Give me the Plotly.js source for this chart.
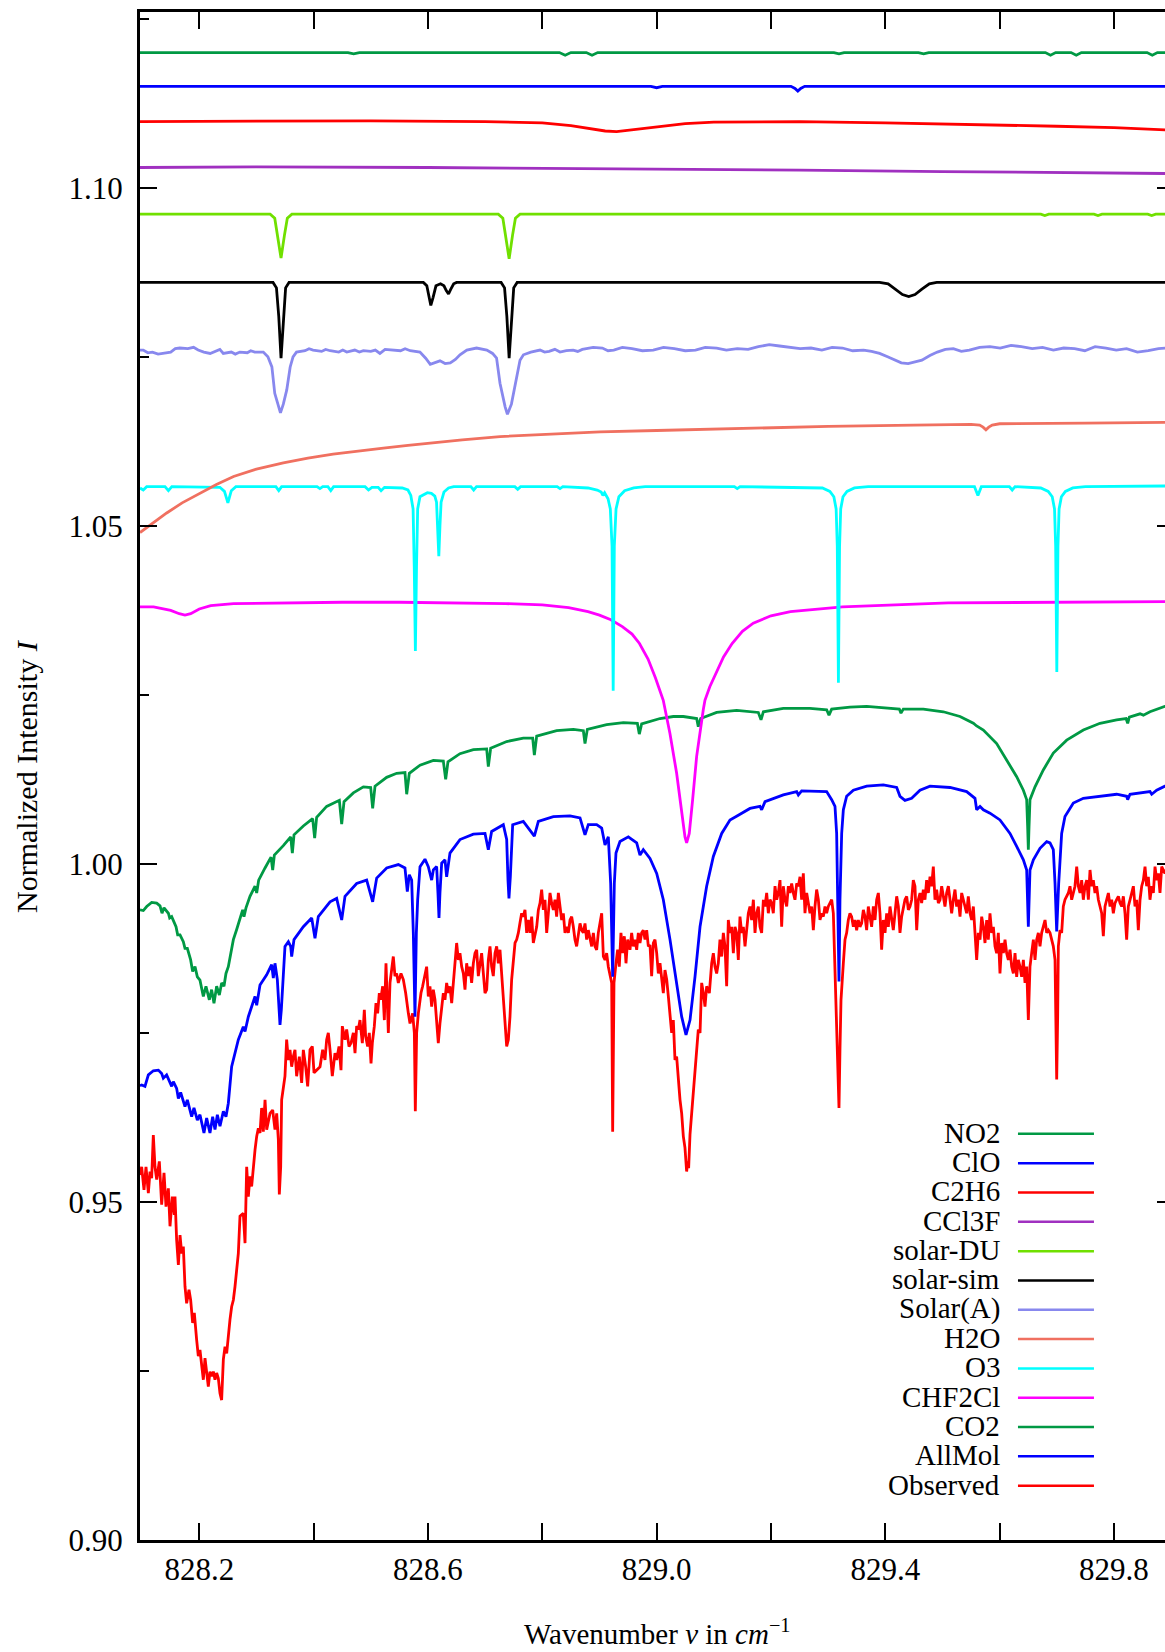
<!DOCTYPE html>
<html><head><meta charset="utf-8">
<script src="https://cdn.plot.ly/plotly-3.0.1.min.js"></script>
<style>html,body{margin:0;padding:0;overflow:hidden;background:#fff}#chart{width:1180px;height:1652px}</style>
</head><body><div id="chart"></div>
<script>
// ---------- legend / series meta ----------
const seriesNames  = ["NO2","ClO","C2H6","CCl3F","solar-DU","solar-sim","Solar(A)","H2O","O3","CHF2Cl","CO2","AllMol","Observed"];
const seriesColors = ["#009944","#0000ff","#ff0000","#a030c0","#70e000","#000000","#8888ee","#f07060","#00ffff","#ff00ff","#009944","#0000ff","#ff0000"];

// ---------- axis ticks ----------
const xTickVals = [828.2,828.6,829.0,829.4,829.8];
const xTickText = ["828.2","828.6","829.0","829.4","829.8"];
const xMinorTickVals = [828.4,828.8,829.2,829.6];
const yTickVals = [0.90,0.95,1.00,1.05,1.10];
const yTickText = ["0.90","0.95","1.00","1.05","1.10"];
const yMinorTickVals = [0.925,0.975,1.025,1.075,1.125];

// ---------- data: [wavenumber, normalized intensity] ----------
const no2 = [[828.0963,1.1200],[828.46,1.1200],[828.47,1.1198],[828.48,1.1200],[828.83,1.1200],[828.84,1.1196],[828.85,1.1200],[828.877,1.1200],[828.887,1.1196],[828.897,1.1200],[829.31,1.1200],[829.319,1.1198],[829.328,1.1200],[829.458,1.1200],[829.467,1.1198],[829.476,1.1200],[829.68,1.1200],[829.689,1.1196],[829.698,1.1200],[829.725,1.1200],[829.734,1.1196],[829.743,1.1200],[829.858,1.1200],[829.867,1.1196],[829.876,1.1200],[829.905,1.1200]];

const clo = [[828.0963,1.1150],[828.99,1.1150],[829.0,1.1148],[829.01,1.1150],[829.235,1.1150],[829.242,1.1147],[829.247,1.1143],[829.252,1.1147],[829.259,1.1150],[829.905,1.1150]];

const c2h6 = [[828.0963,1.1098],[828.3,1.1099],[828.5,1.1099],[828.7,1.1098],[828.8,1.1096],[828.85,1.1092],[828.88,1.1088],[828.91,1.1084],[828.93,1.1083],[828.96,1.1086],[829.0,1.1091],[829.05,1.1095],[829.1,1.1097],[829.25,1.1098],[829.4,1.1096],[829.55,1.1094],[829.7,1.1091],[829.8,1.1089],[829.905,1.1085]];

const ccl3f = [[828.0963,1.1030],[828.3,1.1031],[828.6,1.1030],[829.0,1.1028],[829.25,1.1026],[829.5,1.1024],[829.7,1.1022],[829.905,1.1021]];

const solarDU = [[828.0963,1.0961],[828.324,1.0961],[828.332,1.0955],[828.337,1.0930],[828.343,1.0896],[828.349,1.0930],[828.354,1.0955],[828.362,1.0961],[828.723,1.0961],[828.731,1.0955],[828.736,1.0930],[828.742,1.0895],[828.748,1.0930],[828.753,1.0955],[828.761,1.0961],[829.672,1.0961],[829.679,1.0959],[829.686,1.0961],[829.765,1.0961],[829.772,1.0959],[829.779,1.0961],[829.859,1.0961],[829.866,1.0959],[829.873,1.0961],[829.905,1.0961]];

const solarSim = [[828.0963,1.0860],[828.329,1.0860],[828.335,1.0852],[828.339,1.0810],[828.343,1.0748],[828.347,1.0810],[828.351,1.0852],[828.357,1.0860],[828.592,1.0860],[828.598,1.0855],[828.602,1.0838],[828.605,1.0826],[828.609,1.0838],[828.614,1.0855],[828.622,1.0858],[828.628,1.0855],[828.632,1.0848],[828.636,1.0843],[828.640,1.0850],[828.645,1.0858],[828.650,1.0860],[828.728,1.0860],[828.734,1.0852],[828.738,1.0810],[828.742,1.0748],[828.746,1.0810],[828.750,1.0852],[828.756,1.0860],[829.39,1.0860],[829.405,1.0858],[829.418,1.0850],[829.43,1.0842],[829.441,1.0839],[829.452,1.0842],[829.464,1.0850],[829.477,1.0858],[829.49,1.0860],[829.905,1.0860]];

const solarA = [[828.0963,1.0760],[828.102,1.0760],[828.110,1.0756],[828.118,1.0757],[828.128,1.0754],[828.137,1.0755],[828.150,1.0757],[828.158,1.0762],[828.166,1.0763],[828.180,1.0762],[828.190,1.0764],[828.198,1.0760],[828.208,1.0757],[828.219,1.0755],[828.230,1.0759],[828.236,1.0761],[828.242,1.0755],[828.256,1.0757],[828.263,1.0754],[828.271,1.0757],[828.284,1.0756],[828.290,1.0759],[828.297,1.0757],[828.312,1.0757],[828.320,1.0750],[828.327,1.0735],[828.332,1.0696],[828.338,1.0680],[828.342,1.0667],[828.347,1.0680],[828.353,1.0701],[828.359,1.0735],[828.364,1.0750],[828.370,1.0757],[828.385,1.0759],[828.392,1.0762],[828.399,1.0760],[828.414,1.0758],[828.421,1.0761],[828.429,1.0759],[828.444,1.0757],[828.451,1.0760],[828.458,1.0757],[828.472,1.0760],[828.480,1.0757],[828.487,1.0759],[828.500,1.0758],[828.508,1.0760],[828.516,1.0755],[828.525,1.0761],[828.534,1.0760],[828.552,1.0759],[828.560,1.0762],[828.569,1.0759],[828.586,1.0757],[828.596,1.0748],[828.604,1.0739],[828.612,1.0741],[828.621,1.0744],[828.630,1.0740],[828.639,1.0741],[828.648,1.0746],[828.656,1.0753],[828.668,1.0760],[828.685,1.0763],[828.703,1.0760],[828.713,1.0755],[828.720,1.0748],[828.726,1.0711],[828.735,1.0676],[828.739,1.0665],[828.746,1.0680],[828.755,1.0721],[828.761,1.0745],[828.767,1.0753],[828.780,1.0757],[828.796,1.0760],[828.804,1.0757],[828.812,1.0758],[828.822,1.0761],[828.831,1.0757],[828.842,1.0759],[828.854,1.0760],[828.862,1.0758],[828.870,1.0761],[828.889,1.0764],[828.905,1.0763],[828.915,1.0759],[828.925,1.0760],[828.940,1.0764],[828.957,1.0762],[828.975,1.0759],[828.994,1.0760],[829.012,1.0764],[829.031,1.0762],[829.050,1.0759],[829.068,1.0760],[829.085,1.0764],[829.105,1.0763],[829.122,1.0760],[829.141,1.0762],[829.160,1.0761],[829.178,1.0765],[829.197,1.0768],[829.215,1.0766],[829.233,1.0764],[829.251,1.0762],[829.270,1.0763],[829.289,1.0760],[829.307,1.0764],[829.325,1.0763],[829.343,1.0759],[829.362,1.0760],[829.376,1.0758],[829.390,1.0755],[829.404,1.0750],[829.417,1.0745],[829.428,1.0741],[829.440,1.0740],[829.452,1.0742],[829.464,1.0745],[829.478,1.0752],[829.491,1.0757],[829.505,1.0761],[829.519,1.0762],[829.533,1.0758],[829.547,1.0760],[829.565,1.0764],[829.583,1.0765],[829.601,1.0763],[829.620,1.0767],[829.638,1.0765],[829.657,1.0762],[829.675,1.0764],[829.694,1.0760],[829.712,1.0763],[829.731,1.0762],[829.749,1.0759],[829.767,1.0765],[829.786,1.0763],[829.804,1.0760],[829.822,1.0762],[829.841,1.0757],[829.860,1.0759],[829.878,1.0762],[829.905,1.0764]];

const h2o = [[828.0963,1.0490],[828.12,1.0505],[828.143,1.0519],[828.17,1.0534],[828.201,1.0548],[828.23,1.0561],[828.26,1.0573],[828.30,1.0584],[828.347,1.0593],[828.39,1.0600],[828.434,1.0606],[828.48,1.0611],[828.522,1.0615],[828.565,1.0619],[828.609,1.0623],[828.66,1.0627],[828.726,1.0632],[828.80,1.0635],[828.901,1.0639],[829.0,1.0641],[829.141,1.0644],[829.3,1.0647],[829.45,1.0649],[829.55,1.0650],[829.565,1.0649],[829.571,1.0646],[829.576,1.0642],[829.581,1.0646],[829.587,1.0649],[829.60,1.0651],[829.75,1.0652],[829.905,1.0653]];

const o3 = [[828.0963,1.0556],[828.102,1.0553],[828.108,1.0558],[828.140,1.0558],[828.146,1.0552],[828.152,1.0558],[828.236,1.0557],[828.244,1.0551],[828.248,1.0540],[828.250,1.0534],[828.252,1.0540],[828.256,1.0552],[828.264,1.0558],[828.334,1.0558],[828.339,1.0552],[828.344,1.0558],[828.406,1.0558],[828.411,1.0555],[828.416,1.0558],[828.425,1.0558],[828.430,1.0552],[828.435,1.0558],[828.490,1.0558],[828.496,1.0553],[828.502,1.0557],[828.513,1.0557],[828.518,1.0552],[828.524,1.0557],[828.555,1.0556],[828.565,1.0553],[828.570,1.0545],[828.574,1.0525],[828.576,1.0440],[828.578,1.0315],[828.580,1.0440],[828.582,1.0525],[828.586,1.0543],[828.592,1.0546],[828.599,1.0549],[828.606,1.0548],[828.612,1.0544],[828.615,1.0535],[828.617,1.0500],[828.619,1.0455],[828.621,1.0500],[828.623,1.0535],[828.628,1.0550],[828.636,1.0556],[828.645,1.0558],[828.675,1.0558],[828.680,1.0553],[828.685,1.0558],[828.752,1.0558],[828.757,1.0554],[828.762,1.0558],[828.826,1.0558],[828.831,1.0555],[828.836,1.0558],[828.880,1.0556],[828.896,1.0553],[828.903,1.0550],[828.906,1.0545],[828.909,1.0549],[828.915,1.0540],[828.919,1.0525],[828.922,1.0470],[828.924,1.0256],[828.926,1.0470],[828.929,1.0525],[828.934,1.0543],[828.944,1.0552],[828.960,1.0556],[828.980,1.0558],[829.136,1.0558],[829.141,1.0555],[829.146,1.0558],[829.290,1.0556],[829.303,1.0551],[829.310,1.0543],[829.314,1.0525],[829.316,1.0470],[829.318,1.0268],[829.320,1.0470],[829.322,1.0525],[829.326,1.0543],[829.333,1.0551],[829.346,1.0556],[829.370,1.0558],[829.556,1.0558],[829.562,1.0545],[829.568,1.0558],[829.617,1.0558],[829.622,1.0553],[829.627,1.0558],[829.672,1.0556],[829.685,1.0551],[829.692,1.0543],[829.696,1.0525],[829.698,1.0470],[829.700,1.0284],[829.702,1.0470],[829.704,1.0525],[829.708,1.0543],[829.715,1.0551],[829.728,1.0556],[829.750,1.0558],[829.905,1.0559]];

const chf2cl = [[828.0963,1.0380],[828.12,1.0380],[828.15,1.0375],[828.165,1.0370],[828.175,1.0368],[828.185,1.0370],[828.20,1.0377],[828.22,1.0382],[828.26,1.0385],[828.35,1.0386],[828.45,1.0387],[828.55,1.0387],[828.65,1.0386],[828.736,1.0385],[828.80,1.0383],[828.846,1.0379],[828.88,1.0373],[828.90,1.0368],[828.92,1.0361],[828.94,1.0351],[828.957,1.0340],[828.970,1.0326],[828.985,1.0303],[828.998,1.0275],[829.0116,1.0242],[829.0233,1.0193],[829.0350,1.0134],[829.0438,1.0080],[829.0496,1.0040],[829.0525,1.0031],[829.0571,1.0045],[829.0630,1.0095],[829.0700,1.0159],[829.0816,1.0228],[829.0845,1.0242],[829.093,1.0262],[829.104,1.0283],[829.117,1.0306],[829.132,1.0326],[829.150,1.0344],[829.169,1.0356],[829.20,1.0367],[829.234,1.0373],[829.28,1.0377],[829.325,1.0380],[829.51,1.0386],[829.694,1.0387],[829.905,1.0388]];

const co2 = [[828.0963,0.9932],[828.1021,0.9931],[828.1080,0.9937],[828.1167,0.9943],[828.1255,0.9942],[828.1313,0.9938],[828.1348,0.9927],[828.1383,0.9935],[828.1459,0.9927],[828.1482,0.9920],[828.1517,0.9922],[828.1593,0.9907],[828.1622,0.9895],[828.1663,0.9895],[828.1721,0.9885],[828.1750,0.9875],[828.1791,0.9875],[828.1849,0.9858],[828.1884,0.9841],[828.1925,0.9848],[828.1966,0.9833],[828.2012,0.9828],[828.2071,0.9804],[828.2117,0.9819],[828.2176,0.9799],[828.2216,0.9814],[828.2257,0.9794],[828.2304,0.9819],[828.2351,0.9806],[828.2391,0.9824],[828.2432,0.9819],[828.2467,0.9838],[828.2508,0.9848],[828.2549,0.9868],[828.2596,0.9888],[828.2654,0.9903],[828.2712,0.9920],[828.2759,0.9932],[828.2782,0.9922],[828.2817,0.9935],[828.2887,0.9952],[828.2975,0.9967],[828.3004,0.9957],[828.3039,0.9976],[828.3150,0.9994],[828.3255,1.0010],[828.3284,0.9991],[828.3313,1.0013],[828.3470,1.0027],[828.3599,1.0040],[828.3628,1.0016],[828.3657,1.0043],[828.3820,1.0056],[828.3983,1.0067],[828.4018,1.0038],[828.4053,1.0069],[828.4228,1.0085],[828.4450,1.0094],[828.4491,1.0059],[828.4532,1.0092],[828.4695,1.0105],[828.4870,1.0114],[828.4998,1.0113],[828.5033,1.0082],[828.5074,1.0115],[828.5278,1.0128],[828.5453,1.0134],[828.5598,1.0135],[828.5628,1.0103],[828.5674,1.0134],[828.5861,1.0146],[828.6094,1.0153],[828.6269,1.0152],[828.6310,1.0125],[828.6350,1.0151],[828.6560,1.0163],[828.6794,1.0169],[828.7027,1.0170],[828.7056,1.0144],[828.7097,1.0171],[828.7377,1.0181],[828.7668,1.0186],[828.7832,1.0186],[828.7861,1.0161],[828.7902,1.0189],[828.8251,1.0197],[828.8543,1.0199],[828.8718,1.0197],[828.8747,1.0178],[828.8788,1.0199],[828.9126,1.0206],[828.9418,1.0209],[828.9663,1.0208],[828.9697,1.0192],[828.9738,1.0207],[828.9919,1.0212],[829.0059,1.0215],[829.0292,1.0218],[829.0467,1.0218],[829.0700,1.0215],[829.0729,1.0203],[829.0770,1.0215],[829.1050,1.0224],[829.1400,1.0227],[829.1779,1.0224],[829.1826,1.0213],[829.1867,1.0225],[829.2216,1.0230],[829.2683,1.0230],[829.2974,1.0228],[829.3015,1.0220],[829.3062,1.0229],[829.3382,1.0232],[829.3674,1.0233],[829.3965,1.0231],[829.4245,1.0229],[829.4274,1.0223],[829.4315,1.0229],[829.4665,1.0229],[829.5015,1.0225],[829.5307,1.0218],[829.5540,1.0208],[829.5598,1.0204],[829.5715,1.0198],[829.5948,1.0178],[829.6123,1.0154],[829.6298,1.0129],[829.6415,1.0109],[829.6473,1.0095],[829.6490,1.0055],[829.6502,1.0021],[829.6514,1.0055],[829.6531,1.0095],[829.6619,1.0114],[829.6764,1.0139],[829.6939,1.0164],[829.7173,1.0183],[829.7464,1.0198],[829.7756,1.0208],[829.8047,1.0213],[829.8211,1.0215],[829.8240,1.0208],[829.8269,1.0217],[829.8456,1.0222],[829.8514,1.0220],[829.8630,1.0225],[829.8892,1.0233],[829.905,1.0236]];

const allMol = [[828.0963,0.9672],[828.0992,0.9673],[828.1050,0.9671],[828.1109,0.9688],[828.1196,0.9694],[828.1284,0.9695],[828.1342,0.9690],[828.1371,0.9683],[828.1429,0.9688],[828.1488,0.9678],[828.1517,0.9671],[828.1546,0.9678],[828.1604,0.9668],[828.1634,0.9653],[828.1674,0.9662],[828.1750,0.9641],[828.1791,0.9651],[828.1867,0.9626],[828.1907,0.9639],[828.1966,0.9621],[828.2012,0.9629],[828.2082,0.9602],[828.2129,0.9624],[828.2187,0.9602],[828.2234,0.9626],[828.2275,0.9607],[828.2316,0.9629],[828.2362,0.9612],[828.2421,0.9634],[828.2467,0.9626],[828.2508,0.9646],[828.2566,0.9700],[828.2625,0.9720],[828.2683,0.9740],[828.2770,0.9759],[828.2800,0.9752],[828.2858,0.9774],[828.2975,0.9804],[828.3004,0.9791],[828.3062,0.9821],[828.3179,0.9836],[828.3266,0.9851],[828.3295,0.9831],[828.3324,0.9853],[828.3365,0.9829],[828.3389,0.9784],[828.3412,0.9762],[828.3435,0.9784],[828.3458,0.9824],[828.3499,0.9878],[828.3558,0.9885],[828.3599,0.9878],[828.3616,0.9863],[828.3657,0.9888],[828.3820,0.9907],[828.3966,0.9920],[828.4024,0.9890],[828.4082,0.9922],[828.4287,0.9944],[828.4403,0.9949],[828.4491,0.9917],[828.4549,0.9952],[828.4753,0.9971],[828.4928,0.9976],[828.5033,0.9944],[828.5103,0.9979],[828.5278,0.9994],[828.5482,0.9999],[828.5598,0.9994],[828.5639,0.9959],[828.5674,0.9984],[828.5715,0.9976],[828.5744,0.9898],[828.5773,0.9774],[828.5797,0.9898],[828.5820,0.9947],[828.5861,0.9996],[828.5948,1.0007],[828.6006,0.9996],[828.6065,0.9976],[828.6094,0.9991],[828.6152,0.9996],[828.6175,0.9957],[828.6193,0.9920],[828.6210,0.9957],[828.6240,1.0001],[828.6298,1.0006],[828.6327,0.9981],[828.6385,1.0016],[828.6560,1.0036],[828.6794,1.0044],[828.6998,1.0045],[828.7056,1.0021],[828.7114,1.0048],[828.7318,1.0058],[828.7377,1.0036],[828.7400,0.9976],[828.7417,0.9949],[828.7441,0.9981],[828.7482,1.0058],[828.7668,1.0063],[828.7861,1.0041],[828.7931,1.0063],[828.8193,1.0070],[828.8485,1.0071],[828.8660,1.0068],[828.8747,1.0043],[828.8805,1.0058],[828.8951,1.0058],[828.9039,1.0053],[828.9097,1.0028],[828.9155,1.0040],[828.9196,0.9971],[828.9231,0.9833],[828.9260,0.9971],[828.9289,1.0016],[828.9359,1.0033],[828.9505,1.0040],[828.9651,1.0031],[828.9709,1.0013],[828.9767,1.0021],[828.9884,1.0008],[829.0001,0.9986],[829.0117,0.9947],[829.0234,0.9888],[829.0350,0.9824],[829.0438,0.9774],[829.0514,0.9747],[829.0584,0.9769],[829.0671,0.9833],[829.0759,0.9907],[829.0875,0.9967],[829.0992,1.0011],[829.1138,1.0045],[829.1283,1.0065],[829.1429,1.0072],[829.1633,1.0082],[829.1808,1.0085],[829.1837,1.0080],[829.1896,1.0092],[829.2216,1.0102],[829.2450,1.0107],[829.2479,1.0102],[829.2537,1.0108],[829.2799,1.0108],[829.2974,1.0107],[829.3062,1.0095],[829.3120,1.0085],[829.3149,1.0045],[829.3172,0.9947],[829.3190,0.9826],[829.3207,0.9947],[829.3237,1.0045],[829.3266,1.0080],[829.3324,1.0100],[829.3441,1.0109],[829.3674,1.0115],[829.3965,1.0117],[829.4199,1.0113],[829.4257,1.0100],[829.4344,1.0094],[829.4461,1.0097],[829.4607,1.0109],[829.4782,1.0115],[829.5132,1.0113],[829.5423,1.0107],[829.5569,1.0097],[829.5598,1.0080],[829.5657,1.0085],[829.5715,1.0080],[829.5831,1.0075],[829.6006,1.0065],[829.6181,1.0045],[829.6298,1.0026],[829.6415,1.0006],[829.6473,0.9991],[829.6502,0.9907],[829.6531,0.9991],[829.6590,1.0006],[829.6706,1.0023],[829.6823,1.0033],[829.6881,1.0031],[829.6939,1.0021],[829.6969,0.9971],[829.6998,0.9900],[829.7033,0.9971],[829.7085,1.0045],[829.7143,1.0070],[829.7289,1.0090],[829.7464,1.0097],[829.7756,1.0100],[829.8047,1.0103],[829.8222,1.0100],[829.8240,1.0095],[829.8281,1.0103],[829.8630,1.0107],[829.8660,1.0103],[829.8747,1.0109],[829.8892,1.0115],[829.905,1.0118]];

const observed = [[828.0963,0.9540],[828.0992,0.9552],[828.1033,0.9518],[828.1068,0.9552],[828.1109,0.9513],[828.1138,0.9545],[828.1167,0.9535],[828.1196,0.9599],[828.1225,0.9552],[828.1255,0.9533],[828.1301,0.9560],[828.1342,0.9496],[828.1383,0.9543],[828.1418,0.9493],[828.1459,0.9520],[828.1488,0.9464],[828.1529,0.9508],[828.1564,0.9481],[828.1575,0.9508],[828.1604,0.9444],[828.1634,0.9407],[828.1663,0.9451],[828.1692,0.9424],[828.1721,0.9434],[828.1750,0.9375],[828.1779,0.9350],[828.1820,0.9370],[828.1849,0.9355],[828.1884,0.9321],[828.1913,0.9336],[828.1954,0.9296],[828.1983,0.9272],[828.2012,0.9281],[828.2042,0.9262],[828.2071,0.9237],[828.2100,0.9269],[828.2129,0.9242],[828.2158,0.9227],[828.2187,0.9249],[828.2216,0.9242],[828.2246,0.9249],[828.2275,0.9237],[828.2304,0.9247],[828.2333,0.9239],[828.2362,0.9217],[828.2391,0.9207],[828.2421,0.9267],[828.2450,0.9286],[828.2479,0.9276],[828.2508,0.9306],[828.2537,0.9326],[828.2566,0.9345],[828.2596,0.9355],[828.2625,0.9375],[828.2654,0.9395],[828.2683,0.9424],[828.2712,0.9479],[828.2770,0.9483],[828.2800,0.9439],[828.2829,0.9552],[828.2858,0.9508],[828.2887,0.9538],[828.2916,0.9523],[828.2945,0.9555],[828.2975,0.9577],[828.3004,0.9597],[828.3033,0.9609],[828.3062,0.9602],[828.3091,0.9639],[828.3120,0.9604],[828.3150,0.9651],[828.3179,0.9607],[828.3237,0.9631],[828.3284,0.9636],[828.3324,0.9607],[828.3354,0.9631],[828.3383,0.9592],[828.3400,0.9511],[828.3424,0.9552],[828.3441,0.9651],[828.3470,0.9671],[828.3499,0.9686],[828.3528,0.9740],[828.3558,0.9710],[828.3587,0.9725],[828.3616,0.9700],[828.3645,0.9715],[828.3674,0.9725],[828.3703,0.9686],[828.3750,0.9715],[828.3791,0.9676],[828.3820,0.9725],[828.3861,0.9700],[828.3896,0.9671],[828.3937,0.9725],[828.3977,0.9730],[828.4007,0.9691],[828.4053,0.9695],[828.4112,0.9700],[828.4158,0.9725],[828.4199,0.9710],[828.4228,0.9740],[828.4257,0.9750],[828.4287,0.9725],[828.4327,0.9686],[828.4374,0.9720],[828.4403,0.9710],[828.4444,0.9730],[828.4479,0.9695],[828.4502,0.9760],[828.4549,0.9740],[828.4578,0.9755],[828.4619,0.9730],[828.4654,0.9735],[828.4695,0.9750],[828.4724,0.9720],[828.4753,0.9760],[828.4782,0.9755],[828.4811,0.9769],[828.4852,0.9735],[828.4887,0.9784],[828.4910,0.9745],[828.4945,0.9730],[828.4974,0.9750],[828.5004,0.9705],[828.5027,0.9735],[828.5062,0.9760],[828.5091,0.9794],[828.5120,0.9779],[828.5149,0.9809],[828.5173,0.9799],[828.5208,0.9819],[828.5237,0.9769],[828.5266,0.9853],[828.5307,0.9750],[828.5336,0.9824],[828.5365,0.9843],[828.5394,0.9863],[828.5423,0.9834],[828.5452,0.9838],[828.5482,0.9824],[828.5528,0.9838],[828.5569,0.9829],[828.5610,0.9809],[828.5657,0.9779],[828.5686,0.9764],[828.5732,0.9779],[828.5762,0.9750],[828.5779,0.9634],[828.5802,0.9750],[828.5832,0.9779],[828.5878,0.9809],[828.5907,0.9819],[828.5948,0.9834],[828.5977,0.9848],[828.6006,0.9804],[828.6035,0.9819],[828.6065,0.9789],[828.6094,0.9814],[828.6123,0.9799],[828.6152,0.9769],[828.6181,0.9735],[828.6210,0.9764],[828.6240,0.9789],[828.6269,0.9809],[828.6298,0.9799],[828.6327,0.9824],[828.6356,0.9809],[828.6385,0.9819],[828.6415,0.9794],[828.6444,0.9829],[828.6473,0.9853],[828.6502,0.9883],[828.6531,0.9858],[828.6560,0.9868],[828.6590,0.9848],[828.6619,0.9838],[828.6648,0.9814],[828.6677,0.9853],[828.6706,0.9834],[828.6735,0.9848],[828.6764,0.9824],[828.6794,0.9853],[828.6823,0.9868],[828.6852,0.9873],[828.6881,0.9834],[828.6910,0.9853],[828.6939,0.9868],[828.6969,0.9838],[828.6998,0.9809],[828.7027,0.9814],[828.7056,0.9858],[828.7085,0.9878],[828.7114,0.9848],[828.7143,0.9834],[828.7173,0.9868],[828.7202,0.9878],[828.7231,0.9853],[828.7260,0.9873],[828.7289,0.9838],[828.7318,0.9814],[828.7348,0.9774],[828.7377,0.9730],[828.7406,0.9740],[828.7435,0.9774],[828.7464,0.9829],[828.7493,0.9858],[828.7523,0.9883],[828.7552,0.9888],[828.7581,0.9898],[828.7610,0.9913],[828.7639,0.9927],[828.7668,0.9922],[828.7697,0.9932],[828.7727,0.9898],[828.7756,0.9917],[828.7785,0.9898],[828.7814,0.9922],[828.7843,0.9883],[828.7872,0.9898],[828.7902,0.9907],[828.7931,0.9932],[828.7960,0.9942],[828.7989,0.9962],[828.8018,0.9932],[828.8047,0.9947],[828.8077,0.9898],[828.8106,0.9927],[828.8135,0.9957],[828.8164,0.9942],[828.8193,0.9932],[828.8222,0.9947],[828.8251,0.9922],[828.8281,0.9957],[828.8310,0.9937],[828.8339,0.9917],[828.8368,0.9927],[828.8397,0.9898],[828.8426,0.9907],[828.8456,0.9898],[828.8485,0.9917],[828.8514,0.9922],[828.8543,0.9907],[828.8572,0.9888],[828.8601,0.9878],[828.8631,0.9898],[828.8660,0.9912],[828.8689,0.9902],[828.8718,0.9898],[828.8747,0.9912],[828.8776,0.9888],[828.8805,0.9902],[828.8835,0.9888],[828.8864,0.9878],[828.8893,0.9898],[828.8922,0.9878],[828.8951,0.9873],[828.8980,0.9898],[828.9039,0.9927],[828.9068,0.9863],[828.9097,0.9858],[828.9126,0.9868],[828.9155,0.9848],[828.9185,0.9838],[828.9214,0.9824],[828.9231,0.9604],[828.9254,0.9824],[828.9289,0.9853],[828.9318,0.9873],[828.9347,0.9848],[828.9376,0.9898],[828.9406,0.9868],[828.9435,0.9893],[828.9464,0.9853],[828.9493,0.9888],[828.9534,0.9873],[828.9563,0.9898],[828.9592,0.9878],[828.9622,0.9888],[828.9651,0.9873],[828.9680,0.9898],[828.9709,0.9883],[828.9738,0.9898],[828.9767,0.9902],[828.9797,0.9888],[828.9826,0.9902],[828.9855,0.9878],[828.9884,0.9880],[828.9913,0.9834],[828.9942,0.9883],[828.9971,0.9888],[829.0001,0.9868],[829.0030,0.9838],[829.0059,0.9853],[829.0088,0.9833],[829.0117,0.9809],[829.0146,0.9843],[829.0176,0.9829],[829.0205,0.9804],[829.0234,0.9774],[829.0263,0.9750],[829.0292,0.9769],[829.0321,0.9710],[829.0350,0.9715],[829.0380,0.9676],[829.0409,0.9651],[829.0438,0.9631],[829.0467,0.9597],[829.0496,0.9580],[829.0525,0.9545],[829.0543,0.9560],[829.0560,0.9550],[829.0584,0.9600],[829.0613,0.9631],[829.0642,0.9661],[829.0671,0.9690],[829.0700,0.9730],[829.0729,0.9755],[829.0759,0.9750],[829.0788,0.9824],[829.0817,0.9809],[829.0846,0.9789],[829.0875,0.9819],[829.0922,0.9809],[829.0963,0.9853],[829.0992,0.9868],[829.1021,0.9848],[829.1050,0.9838],[829.1079,0.9853],[829.1108,0.9888],[829.1138,0.9863],[829.1167,0.9898],[829.1196,0.9878],[829.1225,0.9819],[829.1254,0.9917],[829.1283,0.9898],[829.1313,0.9907],[829.1342,0.9868],[829.1371,0.9907],[829.1400,0.9898],[829.1429,0.9858],[829.1458,0.9922],[829.1488,0.9898],[829.1517,0.9907],[829.1546,0.9878],[829.1575,0.9898],[829.1604,0.9927],[829.1633,0.9937],[829.1662,0.9917],[829.1692,0.9947],[829.1721,0.9898],[829.1750,0.9927],[829.1779,0.9937],[829.1808,0.9907],[829.1837,0.9898],[829.1867,0.9947],[829.1896,0.9937],[829.1925,0.9957],[829.1954,0.9927],[829.1983,0.9947],[829.2012,0.9942],[829.2041,0.9927],[829.2071,0.9967],[829.2100,0.9947],[829.2129,0.9957],[829.2158,0.9976],[829.2187,0.9907],[829.2216,0.9967],[829.2246,0.9947],[829.2275,0.9937],[829.2304,0.9967],[829.2333,0.9957],[829.2362,0.9971],[829.2391,0.9957],[829.2420,0.9947],[829.2450,0.9971],[829.2479,0.9967],[829.2508,0.9981],[829.2537,0.9947],[829.2566,0.9986],[829.2595,0.9927],[829.2625,0.9957],[829.2654,0.9942],[829.2683,0.9927],[829.2712,0.9937],[829.2741,0.9902],[829.2770,0.9937],[829.2799,0.9962],[829.2829,0.9947],[829.2858,0.9917],[829.2887,0.9927],[829.2916,0.9922],[829.2945,0.9937],[829.2974,0.9927],[829.3003,0.9937],[829.3033,0.9942],[829.3062,0.9947],[829.3091,0.9927],[829.3120,0.9838],[829.3149,0.9774],[829.3172,0.9700],[829.3190,0.9639],[829.3207,0.9725],[829.3225,0.9799],[829.3266,0.9853],[829.3295,0.9888],[829.3324,0.9898],[829.3353,0.9917],[829.3382,0.9927],[829.3411,0.9922],[829.3441,0.9907],[829.3470,0.9917],[829.3499,0.9902],[829.3528,0.9917],[829.3557,0.9907],[829.3586,0.9912],[829.3616,0.9932],[829.3645,0.9922],[829.3674,0.9902],[829.3703,0.9937],[829.3732,0.9922],[829.3761,0.9907],[829.3791,0.9937],[829.3820,0.9917],[829.3849,0.9947],[829.3878,0.9957],[829.3907,0.9927],[829.3936,0.9873],[829.3965,0.9917],[829.3995,0.9898],[829.4024,0.9927],[829.4053,0.9907],[829.4082,0.9937],[829.4111,0.9922],[829.4140,0.9902],[829.4170,0.9927],[829.4199,0.9952],[829.4228,0.9937],[829.4257,0.9898],[829.4286,0.9922],[829.4315,0.9937],[829.4344,0.9947],[829.4374,0.9952],[829.4403,0.9932],[829.4432,0.9937],[829.4461,0.9947],[829.4490,0.9976],[829.4519,0.9967],[829.4549,0.9902],[829.4578,0.9947],[829.4607,0.9957],[829.4636,0.9942],[829.4665,0.9962],[829.4694,0.9947],[829.4723,0.9976],[829.4753,0.9957],[829.4782,0.9981],[829.4811,0.9967],[829.4840,0.9996],[829.4869,0.9947],[829.4898,0.9962],[829.4928,0.9942],[829.4957,0.9947],[829.4986,0.9967],[829.5015,0.9952],[829.5044,0.9937],[829.5073,0.9957],[829.5103,0.9967],[829.5132,0.9947],[829.5161,0.9927],[829.5190,0.9947],[829.5219,0.9962],[829.5248,0.9937],[829.5277,0.9947],[829.5307,0.9922],[829.5336,0.9957],[829.5365,0.9947],[829.5394,0.9937],[829.5423,0.9927],[829.5452,0.9952],[829.5482,0.9927],[829.5511,0.9917],[829.5540,0.9937],[829.5569,0.9898],[829.5598,0.9858],[829.5627,0.9898],[829.5657,0.9888],[829.5686,0.9922],[829.5715,0.9907],[829.5744,0.9883],[829.5773,0.9917],[829.5802,0.9888],[829.5831,0.9927],[829.5861,0.9898],[829.5890,0.9907],[829.5919,0.9878],[829.5948,0.9868],[829.5977,0.9898],[829.6006,0.9838],[829.6036,0.9883],[829.6065,0.9868],[829.6094,0.9888],[829.6123,0.9868],[829.6152,0.9858],[829.6181,0.9873],[829.6211,0.9848],[829.6240,0.9838],[829.6269,0.9868],[829.6298,0.9833],[829.6327,0.9858],[829.6356,0.9848],[829.6385,0.9833],[829.6415,0.9858],[829.6444,0.9824],[829.6473,0.9848],[829.6502,0.9769],[829.6531,0.9848],[829.6560,0.9868],[829.6590,0.9888],[829.6619,0.9858],[829.6648,0.9888],[829.6677,0.9898],[829.6706,0.9878],[829.6735,0.9898],[829.6764,0.9907],[829.6794,0.9917],[829.6823,0.9898],[829.6852,0.9902],[829.6881,0.9898],[829.6910,0.9888],[829.6939,0.9878],[829.6969,0.9858],[829.6986,0.9750],[829.6998,0.9681],[829.7015,0.9774],[829.7027,0.9878],[829.7056,0.9902],[829.7085,0.9898],[829.7114,0.9937],[829.7143,0.9947],[829.7202,0.9957],[829.7231,0.9967],[829.7260,0.9947],[829.7289,0.9957],[829.7318,0.9967],[829.7348,0.9996],[829.7377,0.9967],[829.7406,0.9957],[829.7435,0.9976],[829.7464,0.9947],[829.7493,0.9967],[829.7523,0.9976],[829.7552,0.9947],[829.7581,0.9991],[829.7610,0.9967],[829.7639,0.9976],[829.7668,0.9957],[829.7697,0.9967],[829.7727,0.9947],[829.7756,0.9937],[829.7785,0.9927],[829.7814,0.9893],[829.7843,0.9937],[829.7872,0.9947],[829.7902,0.9957],[829.7931,0.9937],[829.7960,0.9947],[829.7989,0.9927],[829.8018,0.9942],[829.8047,0.9947],[829.8077,0.9952],[829.8106,0.9942],[829.8135,0.9937],[829.8164,0.9952],[829.8193,0.9927],[829.8222,0.9888],[829.8251,0.9937],[829.8281,0.9947],[829.8310,0.9957],[829.8339,0.9967],[829.8368,0.9937],[829.8397,0.9947],[829.8426,0.9902],[829.8456,0.9947],[829.8485,0.9967],[829.8514,0.9976],[829.8543,0.9996],[829.8572,0.9967],[829.8601,0.9981],[829.8630,0.9947],[829.8660,0.9967],[829.8689,0.9957],[829.8718,0.9996],[829.8747,0.9976],[829.8776,0.9986],[829.8805,0.9957],[829.8835,0.9996],[829.8892,0.9986],[829.8950,1.0000],[829.905,0.9980]];

const seriesData = [no2, clo, c2h6, ccl3f, solarDU, solarSim, solarA, h2o, o3, chf2cl, co2, allMol, observed];

// ---------- build traces (last legend entry drawn first) ----------
const traces = [];
for (let i = seriesNames.length - 1; i >= 0; i--) {
  const d = seriesData[i];
  traces.push({
    type: 'scatter', mode: 'lines', name: seriesNames[i], showlegend: false, hoverinfo: 'skip',
    x: d.map(p => p[0]), y: d.map(p => p[1]),
    line: {color: seriesColors[i], width: 2.8}
  });
}

const SERIF = 'Liberation Serif, Times New Roman, serif';
const mkFont = (s) => ({family: SERIF, size: s, color: '#000'});

// custom legend (text right-aligned, sample line to its right)
const legTextX = 0.8337, legLineX0 = 0.8491, legLineX1 = 0.9226, legTop = 0.2658, legStep = 0.019188;
const annotations = [];
const shapes = [];
seriesNames.forEach((n, i) => {
  const yy = legTop - i * legStep;
  annotations.push({xref: 'paper', yref: 'paper', x: legTextX, y: yy, xanchor: 'right', yanchor: 'middle',
    text: n, showarrow: false, font: mkFont(29), yshift: 1});
  shapes.push({type: 'line', xref: 'paper', yref: 'paper', x0: legLineX0, x1: legLineX1, y0: yy, y1: yy,
    line: {color: seriesColors[i], width: 2.5}});
});
// axis titles
annotations.push({xref: 'paper', yref: 'paper', x: 0.5, y: -0.0605, xanchor: 'center', yanchor: 'middle',
  text: 'Wavenumber <i>ν</i> in <i>cm</i><sup>−1</sup>', showarrow: false, font: mkFont(29)});
annotations.push({xref: 'paper', yref: 'paper', x: -0.1103, y: 0.5, xanchor: 'center', yanchor: 'middle',
  text: 'Normalized Intensity <i>I</i>', textangle: -90, showarrow: false, font: mkFont(30)});

const layout = {
  width: 1180, height: 1652,
  margin: {l: 140, r: 6, t: 12, b: 112},
  paper_bgcolor: '#fff', plot_bgcolor: '#fff',
  font: mkFont(29),
  showlegend: false,
  xaxis: {
    range: [828.0963, 829.905], tickmode: 'array', tickvals: xTickVals, ticktext: xTickText,
    ticks: 'inside', ticklen: 17, tickwidth: 2, tickcolor: '#000',
    minor: {tickmode: 'array', tickvals: xMinorTickVals, ticks: 'inside', ticklen: 17, tickwidth: 2, tickcolor: '#000', showgrid: false},
    showline: true, linewidth: 3, linecolor: '#000', mirror: 'ticks',
    showgrid: false, zeroline: false, tickfont: mkFont(31), ticklabelstandoff: 0
  },
  yaxis: {
    range: [0.90, 1.126], tickmode: 'array', tickvals: yTickVals, ticktext: yTickText,
    ticks: 'inside', ticklen: 17, tickwidth: 2, tickcolor: '#000',
    minor: {tickmode: 'array', tickvals: yMinorTickVals, ticks: 'inside', ticklen: 9, tickwidth: 2, tickcolor: '#000', showgrid: false},
    showline: true, linewidth: 3, linecolor: '#000', mirror: 'ticks',
    showgrid: false, zeroline: false, tickfont: mkFont(31), ticklabelstandoff: 8
  },
  annotations: annotations,
  shapes: shapes
};

Plotly.newPlot('chart', traces, layout, {displayModeBar: false, staticPlot: true});
</script>
</body></html>
